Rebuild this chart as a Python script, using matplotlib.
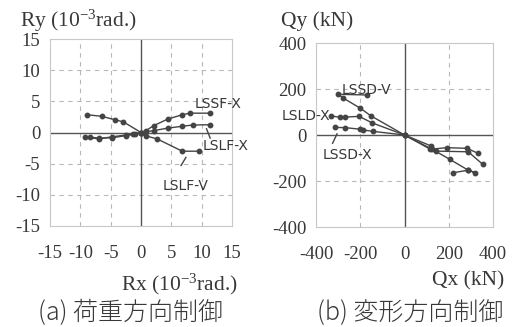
import matplotlib
matplotlib.use("Agg")
import matplotlib.pyplot as plt

plt.rcParams['axes.unicode_minus'] = False
plt.rcParams['mathtext.fontset'] = 'custom'
plt.rcParams['mathtext.rm'] = 'Liberation Serif'
plt.rcParams['mathtext.default'] = 'regular'

# ---- data: (a) load-direction control ----
lssf_x_rx = [-8.9, -6.5, -4.3, -2.9, 0.0, 0.8, 2.1, 4.4, 6.8, 8.1, 11.4]
lssf_x_ry = [2.85, 2.6, 2.05, 1.7, 0.0, 0.3, 1.1, 2.15, 2.85, 3.1, 3.1]
lslf_x_rx = [-9.3, -6.9, -4.8, -2.5, -1.0, 0.0, 2.1, 4.4, 6.8, 8.5, 11.4]
lslf_x_ry = [-0.8, -1.0, -0.7, -0.4, -0.2, 0.0, 0.3, 0.7, 1.0, 1.2, 1.25]
lslf_v_rx = [-8.4, -6.9, -4.8, -2.5, -1.3, 0.0, 0.8, 2.6, 6.8, 9.5]
lslf_v_ry = [-0.75, -0.9, -0.85, -0.5, -0.3, 0.0, -0.55, -1.0, -3.0, -3.0]

# ---- data: (b) deformation-direction control ----
lssd_v_qx = [-168, -299, -276, -199, -153, 0, 125, 205, 288, 320, 288, 220]
lssd_v_qy = [174, 177, 160, 116, 84, 0, -62, -106, -153, -164, -153, -164]
lsld_x_qx = [-332, -291, -268, -205, -147, 0, 117, 192, 283, 333]
lsld_x_qy = [83, 77, 78, 81, 53, 0, -62, -55, -58, -80]
lssd_x_qx = [-314, -268, -199, -188, -144, 0, 121, 144, 288, 353]
lssd_x_qy = [33, 32, 25, 22, 16, 0, -48, -70, -73, -127]

ticks_a = [-15, -10, -5, 0, 5, 10, 15]
ticks_b = [-400, -200, 0, 200, 400]

line_c = '#444444'
grid_c = '#b8b8b8'
txt_c = '#383838'
serif = 'Liberation Serif'
sans = 'Liberation Sans Narrow'

fig = plt.figure(figsize=(5.12, 3.27), dpi=100)
ax1 = fig.add_axes([50/512, 1-226/327, 182/512, 187/327])
ax2 = fig.add_axes([316/512, 1-227/327, 177/512, 184/327])

def style(ax, ticks, grid_vals):
    ax.set_xlim(ticks[0], ticks[-1])
    ax.set_ylim(ticks[0], ticks[-1])
    ax.set_xticks(ticks)
    ax.set_yticks(ticks)
    ax.tick_params(length=0, labelsize=13.5, colors=txt_c)
    ax.tick_params(axis='x', pad=14)
    ax.tick_params(axis='y', pad=7)
    for lab in ax.get_xticklabels() + ax.get_yticklabels():
        lab.set_family(serif)
    for s in ax.spines.values():
        s.set_color('#c8c8c8')
        s.set_linewidth(0.8)
    for g in grid_vals:
        ax.axhline(g, color=grid_c, lw=0.8, ls=(0, (4, 4)), zorder=0)
        ax.axvline(g, color=grid_c, lw=0.8, ls=(0, (4, 4)), zorder=0)
    ax.axhline(0, color='#555555', lw=1.0, zorder=1)
    ax.axvline(0, color='#555555', lw=1.0, zorder=1)

style(ax1, ticks_a, [-10, -5, 5, 10])
style(ax2, ticks_b, [-200, 200])

kw = dict(color=line_c, lw=1.0, marker='o', ms=3.2, zorder=3)
ax1.plot(lssf_x_rx, lssf_x_ry, **kw)
ax1.plot(lslf_x_rx, lslf_x_ry, **kw)
ax1.plot(lslf_v_rx, lslf_v_ry, **kw)

ax2.plot(lssd_v_qx, lssd_v_qy, **kw)
ax2.plot(lsld_x_qx, lsld_x_qy, **kw)
ax2.plot(lssd_x_qx, lssd_x_qy, **kw)

lab_kw = dict(family=sans, fontsize=10, color=txt_c)
ax1.text(8.8, 4.6, 'LSSF-X', ha='left', va='center', **lab_kw)
ax1.text(10.2, -2.2, 'LSLF-X', ha='left', va='center', **lab_kw)
ax1.plot([10.8, 11.4], [0.6, -0.9], color=line_c, lw=1.0)
ax1.text(3.6, -8.6, 'LSLF-V', ha='left', va='center', **lab_kw)
ax1.plot([6.6, 7.4], [-5.3, -4.0], color=line_c, lw=1.0)

ax2.text(-285, 196, 'LSSD-V', ha='left', va='center', **lab_kw)
ax2.text(-555, 83, 'LSLD-X', ha='left', va='center', **lab_kw)
ax2.text(-370, -85, 'LSSD-X', ha='left', va='center', **lab_kw)
ax2.plot([-305, -325], [5, -36], color=line_c, lw=1.0)

tk = dict(family=serif, fontsize=15.5, color=txt_c)
fig.text(20/512, 1-21/327, 'Ry (10$^{-3}$rad.)', ha='left', va='center', **tk)
fig.text(238/512, 1-284/327, 'Rx (10$^{-3}$rad.)', ha='right', va='center', **tk)
fig.text(281/512, 1-21/327, 'Qy (kN)', ha='left', va='center', **tk)
fig.text(504/512, 1-281/327, 'Qx (kN)', ha='right', va='center', **tk)

cap = dict(family=['Noto Sans CJK JP', 'DejaVu Sans'], fontsize=18, color=txt_c, weight='light')
fig.text(131/512, 1-313/327, '(a) 荷重方向制御', ha='center', va='center', **cap)
fig.text(410/512, 1-313/327, '(b) 変形方向制御', ha='center', va='center', **cap)

fig.savefig('out.png', dpi=100, facecolor='white')
